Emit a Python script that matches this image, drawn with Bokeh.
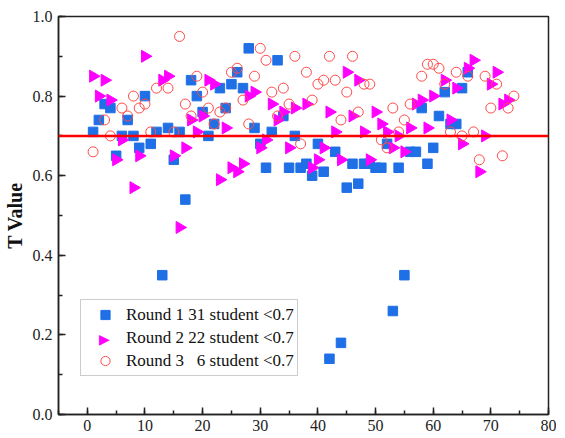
from bokeh.plotting import figure
from bokeh.models import Span, Legend, LegendItem, SingleIntervalTicker, PrintfTickFormatter, Range1d, Label
from bokeh.embed import file_html
from bokeh.resources import INLINE
import math

# Round 1 data
r1_x = list(range(1, 67))
r1_y = [0.71, 0.74, 0.78, 0.77, 0.65, 0.70, 0.74, 0.70, 0.67, 0.80,
        0.68, 0.71, 0.35, 0.72, 0.64, 0.71, 0.54, 0.84, 0.80, 0.76,
        0.70, 0.73, 0.82, 0.77, 0.83, 0.86, 0.82, 0.92, 0.72, 0.68,
        0.62, 0.71, 0.89, 0.75, 0.62, 0.70, 0.62, 0.63, 0.60, 0.68,
        0.61, 0.14, 0.66, 0.18, 0.57, 0.63, 0.58, 0.63, 0.63, 0.62,
        0.62, 0.68, 0.26, 0.62, 0.35, 0.66, 0.66, 0.77, 0.63, 0.67,
        0.75, 0.81, 0.73, 0.73, 0.82, 0.86]

# Round 2 data
r2_x = [1, 2, 3, 4, 5, 6, 8, 9, 10, 13, 14, 15, 16, 17, 18, 19, 20, 21, 22, 23,
        24, 25, 26, 27, 28, 29, 30, 31, 32, 33, 34, 35, 36, 38, 39, 40, 41, 42, 43, 44,
        45, 46, 47, 48, 49, 50, 51, 52, 53, 54, 55, 56, 57, 58, 59, 60, 62, 63, 64, 65,
        66, 67, 68, 69, 70, 71, 72, 73]
r2_y = [0.85, 0.80, 0.84, 0.79, 0.64, 0.69, 0.57, 0.65, 0.90, 0.84, 0.85, 0.65, 0.47, 0.67, 0.74, 0.71, 0.75, 0.84, 0.83, 0.59,
        0.72, 0.62, 0.61, 0.63, 0.80, 0.81, 0.67, 0.69, 0.78, 0.74, 0.76, 0.67, 0.77, 0.78, 0.62, 0.64, 0.67, 0.76, 0.71, 0.64,
        0.86, 0.75, 0.84, 0.71, 0.64, 0.76, 0.73, 0.71, 0.67, 0.70, 0.66, 0.72, 0.78, 0.79, 0.72, 0.80, 0.84, 0.74, 0.82, 0.68,
        0.87, 0.89, 0.61, 0.70, 0.83, 0.86, 0.78, 0.79]

# Round 3 data
r3_x = [1, 3, 4, 6, 7, 8, 9, 10, 11, 12, 14, 15, 16, 17, 18, 19, 20, 21, 22, 23,
        24, 25, 26, 27, 28, 29, 30, 31, 32, 33, 34, 35, 36, 37, 38, 39, 40, 41, 42, 43,
        44, 45, 46, 47, 48, 49, 51, 52, 53, 54, 55, 56, 58, 59, 60, 61, 62, 63, 64, 65,
        66, 67, 68, 69, 70, 71, 72, 73, 74]
r3_y = [0.66, 0.74, 0.70, 0.77, 0.75, 0.80, 0.77, 0.78, 0.71, 0.82, 0.82, 0.71, 0.95, 0.78, 0.75, 0.85, 0.81, 0.77, 0.73, 0.76,
        0.77, 0.86, 0.87, 0.79, 0.73, 0.85, 0.92, 0.89, 0.81, 0.75, 0.82, 0.78, 0.90, 0.68, 0.86, 0.79, 0.83, 0.84, 0.90, 0.84,
        0.74, 0.81, 0.90, 0.76, 0.83, 0.83, 0.69, 0.67, 0.77, 0.71, 0.74, 0.78, 0.85, 0.88, 0.88, 0.87, 0.83, 0.71, 0.86, 0.70,
        0.85, 0.71, 0.64, 0.85, 0.77, 0.83, 0.65, 0.77, 0.80]

threshold = 0.7
labels = ["Round 1 31 student <0.7", "Round 2 22 student <0.7", "Round 3\u00a0\u00a0\u00a06 student <0.7"]

SERIF = "Liberation Serif"
BLUE = "#1f6fe6"
MAGENTA = "#ff00ff"
CIRC = "#ff4a4a"

p = figure(width=556, height=438, x_range=Range1d(-5, 80), y_range=Range1d(0, 1.0),
           output_backend="svg", toolbar_location=None,
           min_border_left=54, min_border_right=8, min_border_top=16, min_border_bottom=24)
p.grid.visible = False
p.outline_line_color = "#222222"
p.outline_line_width = 1.5
p.background_fill_color = "white"

p.xaxis.ticker = SingleIntervalTicker(interval=10, num_minor_ticks=2)
p.yaxis.ticker = SingleIntervalTicker(interval=0.2, num_minor_ticks=2)
p.yaxis.formatter = PrintfTickFormatter(format="%.1f")
for ax in (p.xaxis, p.yaxis):
    ax.axis_line_color = "#222222"
    ax.axis_line_width = 1.5
    ax.major_tick_in = 7
    ax.major_tick_out = 0
    ax.minor_tick_in = 4
    ax.minor_tick_out = 0
    ax.major_tick_line_color = "#222222"
    ax.minor_tick_line_color = "#222222"
    ax.major_tick_line_width = 1.5
    ax.minor_tick_line_width = 1.5
    ax.major_label_text_font = SERIF
    ax.major_label_text_font_size = "16px"
    ax.major_label_text_color = "#222222"
p.xaxis.major_label_standoff = 5
p.yaxis.major_label_standoff = 6
p.yaxis.axis_label = "T Value"
p.yaxis.axis_label_text_font = SERIF
p.yaxis.axis_label_text_font_style = "bold"
p.yaxis.axis_label_text_font_size = "20px"
p.yaxis.axis_label_text_color = "#111111"
p.yaxis.axis_label_standoff = 4

p.add_layout(Span(location=threshold, dimension="width", line_color="#ff0000", line_width=2.5))

g1 = p.scatter(r1_x, r1_y, marker="square", size=9.5, fill_color=BLUE, line_color=BLUE)
g2 = p.scatter(r2_x, r2_y, marker="triangle", size=12, angle=-math.pi / 2,
               fill_color=MAGENTA, line_color=MAGENTA)
g3 = p.scatter(r3_x, r3_y, marker="circle", size=10, fill_color=None, line_color=CIRC, line_width=1)
# invisible stand-in for the legend entry of round 2 (legend markers cannot be rotated)
g2_leg = p.scatter(x=[], y=[], marker="square", size=1, fill_alpha=0, line_alpha=0)

PAD = 3
GW = 42
ROW = 23
LEG_X, LEG_Y = 22, 38

legend = Legend(items=[LegendItem(label=labels[0], renderers=[g1]),
                       LegendItem(label=labels[1], renderers=[g2_leg]),
                       LegendItem(label=labels[2], renderers=[g3])],
                location=(LEG_X, LEG_Y), orientation="vertical")
legend.label_text_font = SERIF
legend.label_text_font_size = "17px"
legend.label_text_color = "#111111"
legend.border_line_color = "#999999"
legend.border_line_width = 1
legend.background_fill_alpha = 0.0
legend.padding = PAD
legend.margin = 0
legend.spacing = 0
legend.label_height = ROW
legend.glyph_height = ROW
legend.glyph_width = GW
legend.label_standoff = 0
p.add_layout(legend, "center")

# right-pointing triangle marker for the round 2 legend entry
box_h = 2 * PAD + 3 * ROW
tri = Label(x=LEG_X + PAD + GW / 2, y=LEG_Y + box_h - PAD - ROW - ROW / 2,
            x_units="screen", y_units="screen", text="\u25B6",
            text_color=MAGENTA, text_font="DejaVu Sans", text_font_size="14px",
            text_align="center", text_baseline="middle")
p.add_layout(tri)

open("out.html", "w").write(file_html(p, INLINE))
